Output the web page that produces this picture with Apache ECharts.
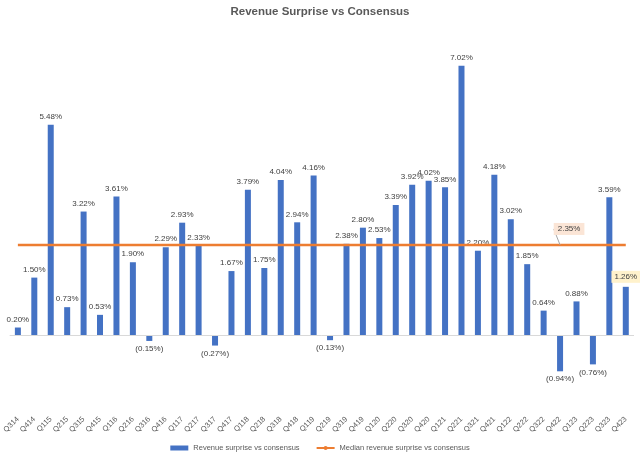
<!DOCTYPE html>
<html>
<head>
<meta charset="utf-8">
<script src="https://cdn.jsdelivr.net/npm/echarts@6/dist/echarts.min.js"></script>
<style>html,body{margin:0;padding:0;background:#fff}#c{width:640px;height:460px}</style>
</head>
<body>
<div id="c"></div>
<script>
const categories = ['Q314','Q414','Q115','Q215','Q315','Q415','Q116','Q216','Q316','Q416','Q117','Q217','Q317','Q417','Q118','Q218','Q318','Q418','Q119','Q219','Q319','Q419','Q120','Q220','Q320','Q420','Q121','Q221','Q321','Q421','Q122','Q222','Q322','Q422','Q123','Q223','Q323','Q423'];
const surprise = [0.20,1.50,5.48,0.73,3.22,0.53,3.61,1.90,-0.15,2.29,2.93,2.33,-0.27,1.67,3.79,1.75,4.04,2.94,4.16,-0.13,2.38,2.80,2.53,3.39,3.92,4.02,3.85,7.02,2.20,4.18,3.02,1.85,0.64,-0.94,0.88,-0.76,3.59,1.26];
const medianValue = 2.35;
const medianLabelIndex = 33;
const highlightIndex = 37;

const fmt = v => v < 0 ? '(' + Math.abs(v).toFixed(2) + '%)' : v.toFixed(2) + '%';
const txt = '#404040';
const font = 'Liberation Sans';

const barData = surprise.map((v, i) => {
  const item = { value: v, label: { position: v < 0 ? 'bottom' : 'top' } };
  if (i === highlightIndex) {
    item.label.backgroundColor = '#FFF2CC';
    item.label.padding = [2, 3];
  }
  return item;
});
const medianData = categories.map((c, i) => {
  const item = { value: medianValue };
  if (i === medianLabelIndex) {
    item.label = {
      show: true, position: 'top', distance: 2, formatter: p => fmt(p.value),
      fontSize: 8, color: txt, backgroundColor: '#FBE5D6', padding: [2, 4], fontFamily: font
    };
    item.labelLine = { show: true, lineStyle: { color: '#A6A6A6', width: 1 } };
  }
  return item;
});

const chart = echarts.init(document.getElementById('c'));
chart.setOption({
  animation: false,
  textStyle: { fontFamily: font },
  title: {
    text: 'Revenue Surprise vs Consensus',
    left: 'center', top: 1,
    textStyle: { fontSize: 11.5, fontWeight: 'bold', color: '#595959', fontFamily: font }
  },
  legend: {
    bottom: 3, left: 'center', itemGap: 16,
    itemWidth: 18, itemHeight: 5,
    textStyle: { fontSize: 7.5, color: '#595959', fontFamily: font },
    data: [{ name: 'Revenue surprise vs consensus', icon: 'rect' }, { name: 'Median revenue surprise vs consensus' }]
  },
  grid: { left: 6, right: 6, top: 28, bottom: 48 },
  xAxis: {
    type: 'category', data: categories,
    axisLine: { show: false }, axisTick: { show: false },
    axisLabel: { rotate: 45, fontSize: 7.5, color: '#595959', margin: 6, interval: 0, fontFamily: font }
  },
  yAxis: { type: 'value', min: -2, max: 8, show: false, splitLine: { show: false } },
  series: [
    {
      name: 'Revenue surprise vs consensus', type: 'bar', data: barData,
      barWidth: 6, itemStyle: { color: '#4472C4' },
      label: { show: true, formatter: p => fmt(p.value), fontSize: 8, color: txt, distance: 4, fontFamily: font },
      markLine: {
        silent: true, symbol: 'none', label: { show: false },
        lineStyle: { color: '#D9D9D9', width: 1, type: 'solid' },
        data: [{ yAxis: 0 }]
      },
      z: 2
    },
    {
      name: 'Median revenue surprise vs consensus', type: 'line', data: medianData,
      symbol: 'circle', symbolSize: 0, showSymbol: true,
      lineStyle: { color: '#ED7D31', width: 2.5 }, itemStyle: { color: '#ED7D31' },
      label: { show: false },
      labelLayout: p => p.dataIndex === medianLabelIndex ? { dx: 9, dy: -8 } : {},
      z: 3
    }
  ]
});
</script>
</body>
</html>
